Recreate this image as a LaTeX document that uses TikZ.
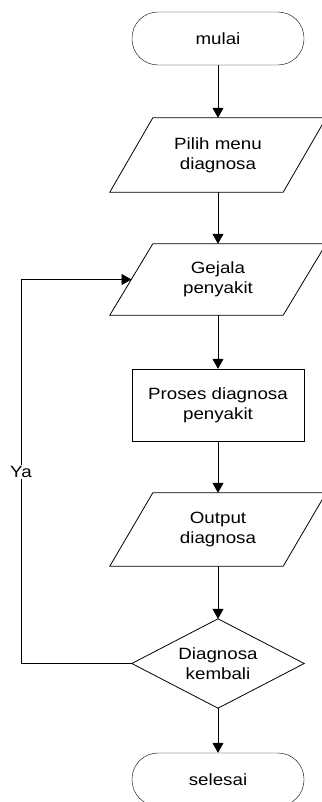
\documentclass[tikz,border=0pt]{standalone}
\usepackage{fontspec}
\setmainfont{Liberation Sans}[FakeStretch=1.15]
\usetikzlibrary{arrows.meta,calc}
\tikzset{
  box/.style={minimum width=172pt, inner sep=0pt, align=center,
    font=\fontsize{16.3}{20}\selectfont},
  terminal/.style={box, draw, minimum height=53pt, rounded corners=26pt},
  process/.style={box, draw, minimum height=72pt},
  iobox/.style={box, minimum width=216pt},
  decision/.style={box},
  flow/.style={line width=0.8pt, -{Triangle[width=11pt,length=10pt]}},
  shapeline/.style={line width=0.8pt},
}
\begin{document}
\begin{tikzpicture}[x=1pt,y=-1pt]
\useasboundingbox (0,0) rectangle (321,802);
\node[terminal] (start) at (218,38.5) {mulai};
\node[iobox, minimum height=74pt] (menu) at (218,155) {Pilih menu\\diagnosa};
\node[iobox, minimum height=71pt] (gejala) at (218,279.5) {Gejala\\penyakit};
\node[process] (proses) at (218,405) {Proses diagnosa\\penyakit};
\node[iobox, minimum height=73pt] (output) at (218,529.5) {Output\\diagnosa};
\node[decision, minimum height=89pt] (dec) at (218,663.5) {Diagnosa\\kembali};
\node[terminal] (end) at (218,779.5) {selesai};
% parallelograms
\foreach \n in {menu,gejala,output}{
  \draw[shapeline] (\n.south west) -- ($(\n.north west)+(43,0)$) -- (\n.north east)
    -- ($(\n.south east)+(-43,0)$) -- cycle;
}
% diamond
\draw[shapeline] (dec.north) -- (dec.east) -- (dec.south) -- (dec.west) -- cycle;
% connectors
\draw[flow] (start.south) -- (menu.north);
\draw[flow] (menu.south) -- (gejala.north);
\draw[flow] (gejala.south) -- (proses.north);
\draw[flow] (proses.south) -- (output.north);
\draw[flow] (output.south) -- (dec.north);
\draw[flow] (dec.south) -- (end.north);
\coordinate (loopin) at ($(gejala.west)+(21.7,0)$);
\draw[flow] (dec.west) -- (21,663.5) -- (21,279.5) -- (loopin);
\node[fill=white, inner sep=1pt, font=\fontsize{16.3}{20}\selectfont] (ya) at (21,472) {Ya};
\end{tikzpicture}
\end{document}
